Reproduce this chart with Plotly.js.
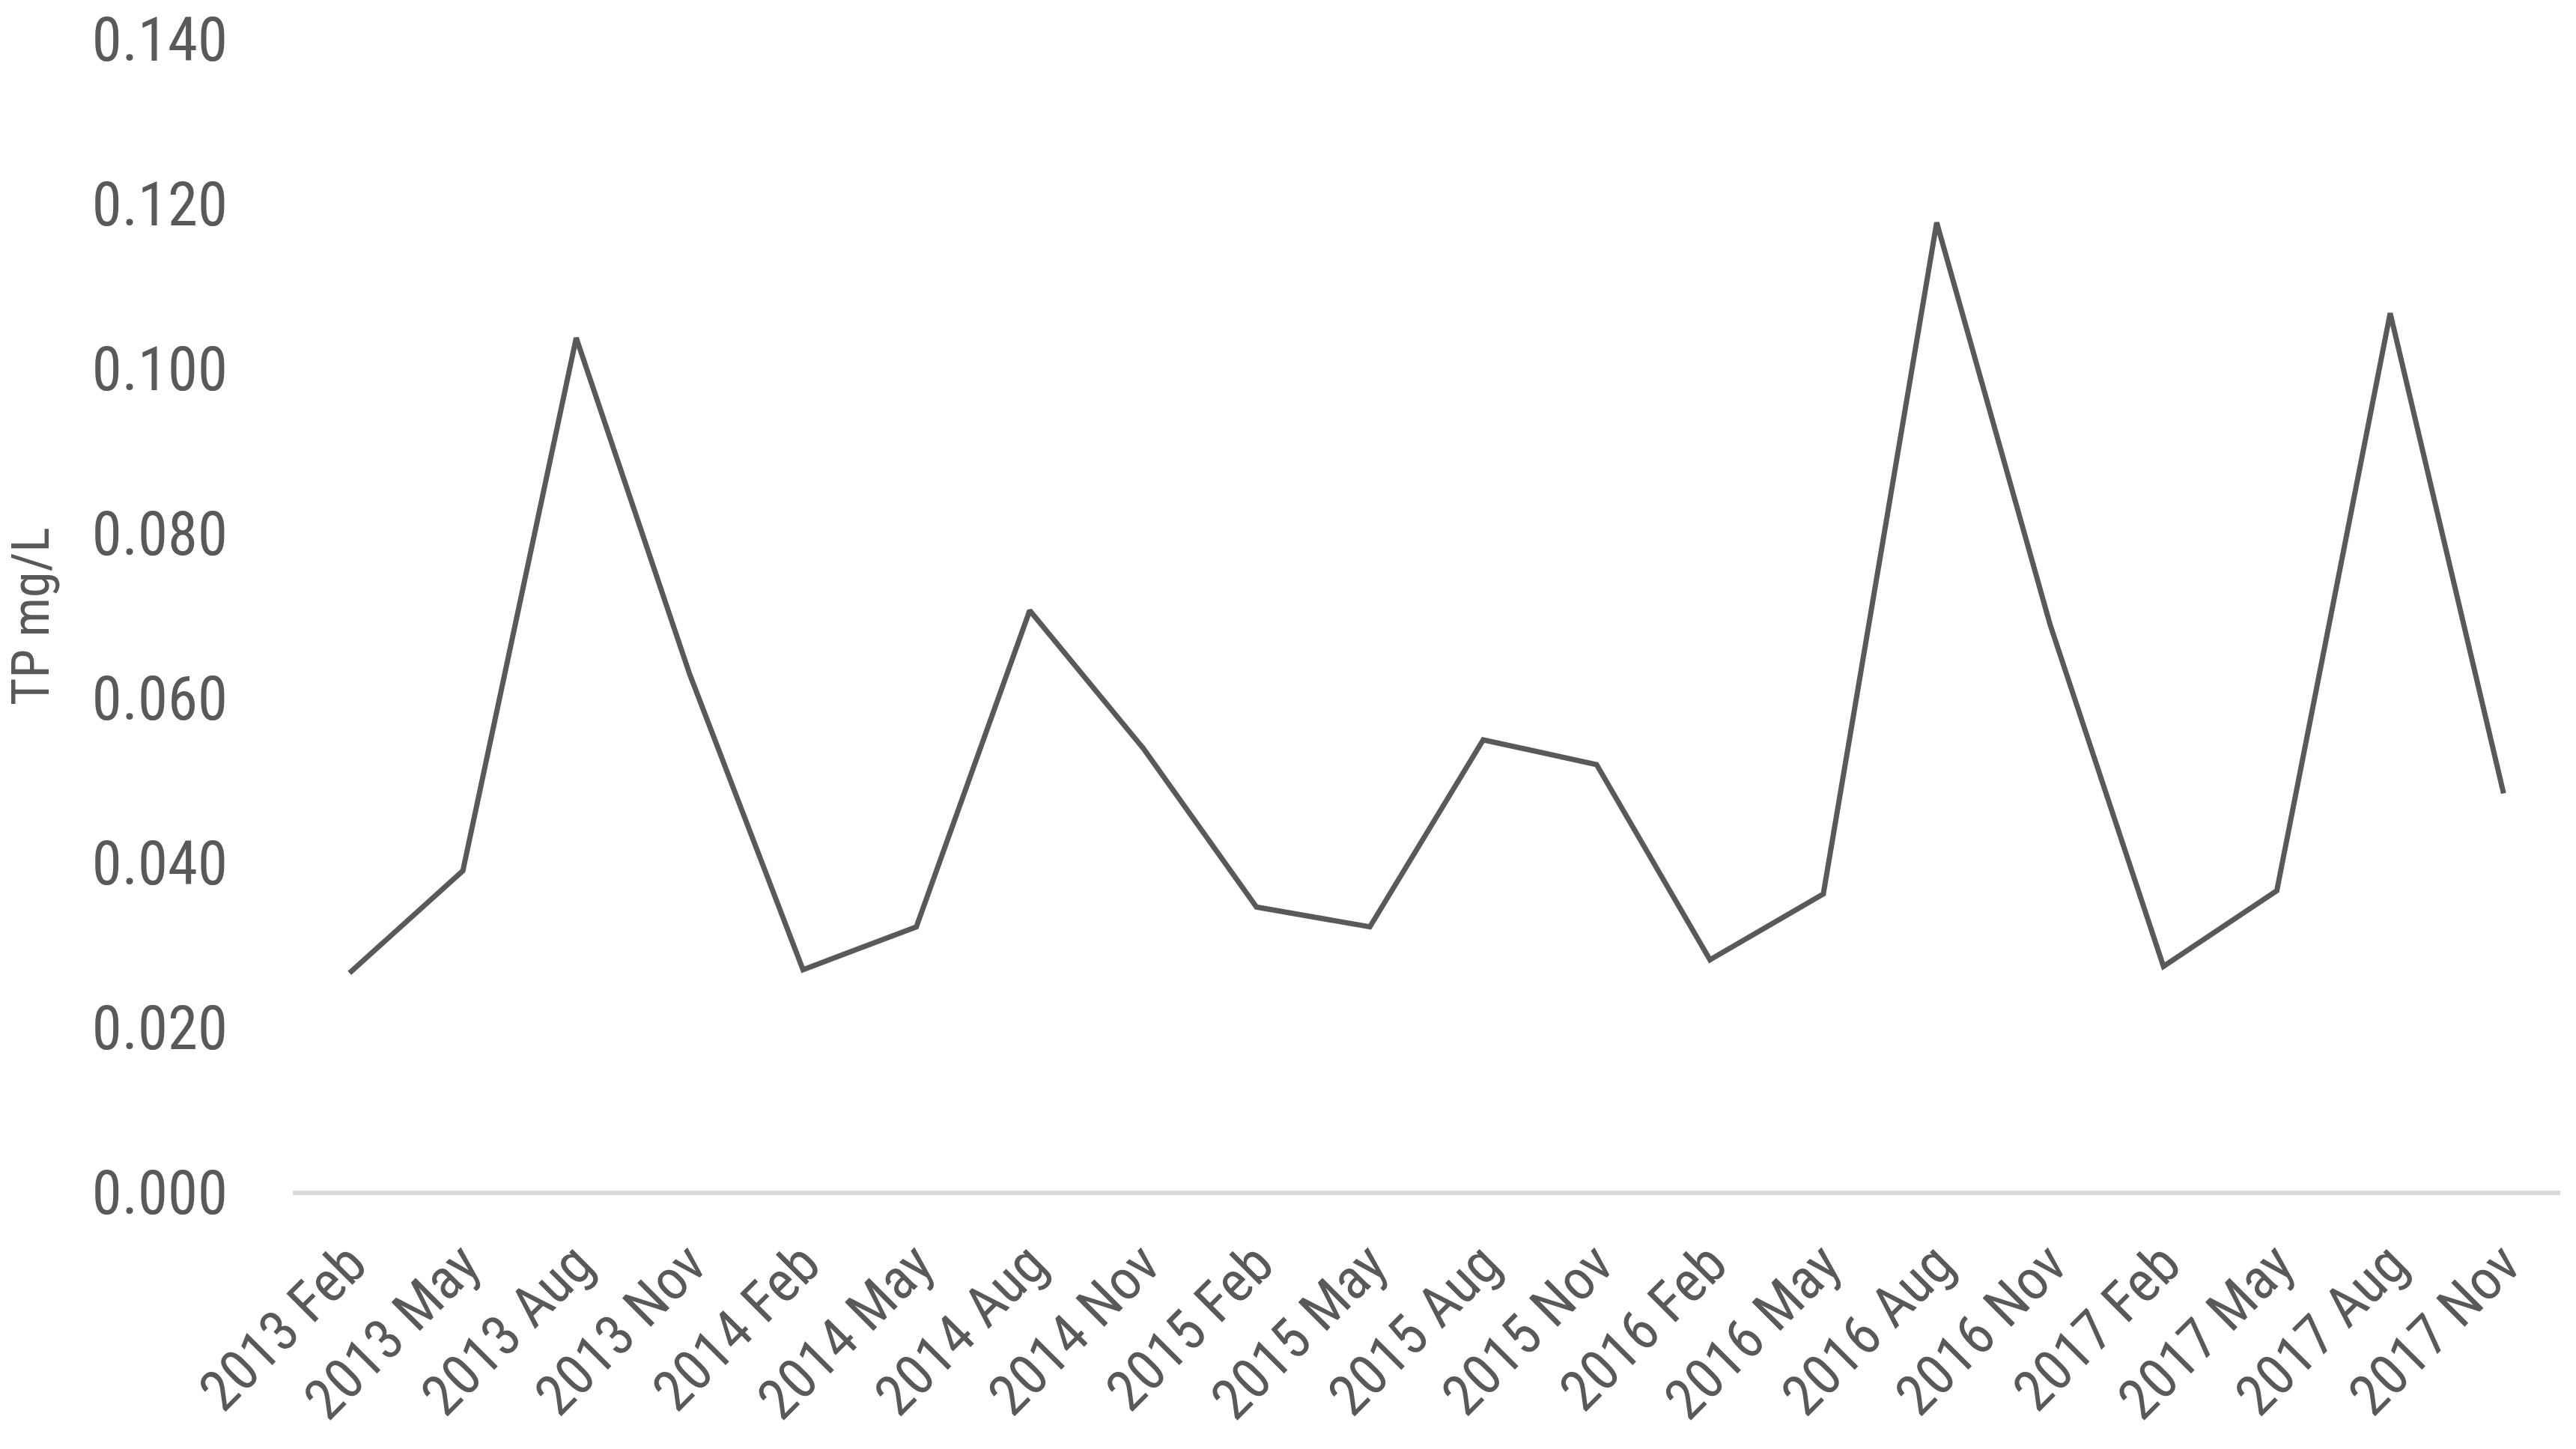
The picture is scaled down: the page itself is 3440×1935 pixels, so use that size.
<!DOCTYPE html>
<html>
<head>
<meta charset="utf-8">
<script src="https://cdn.plot.ly/plotly-3.0.1.min.js"></script>
<style>
  html, body { margin: 0; padding: 0; background: #ffffff; }
  #chart { width: 3440px; height: 1935px; }
</style>
</head>
<body>
<div id="chart"></div>
<script>
const categories = [
  "2013 Feb", "2013 May", "2013 Aug", "2013 Nov",
  "2014 Feb", "2014 May", "2014 Aug", "2014 Nov",
  "2015 Feb", "2015 May", "2015 Aug", "2015 Nov",
  "2016 Feb", "2016 May", "2016 Aug", "2016 Nov",
  "2017 Feb", "2017 May", "2017 Aug", "2017 Nov"
];
const tpValues = [
  0.0267, 0.0391, 0.1038, 0.0630,
  0.0271, 0.0323, 0.0707, 0.0540,
  0.0347, 0.0323, 0.0550, 0.0520,
  0.0283, 0.0363, 0.1178, 0.0690,
  0.0275, 0.0367, 0.1068, 0.0485
];
const yTickValues = [0, 0.02, 0.04, 0.06, 0.08, 0.10, 0.12, 0.14];
const yTitle = "TP mg/L";

const FONT = "'Liberation Sans Narrow', 'Arial Narrow', 'Roboto Condensed', 'Open Sans', sans-serif";
const TXT = "#595959";

const trace = {
  type: "scatter",
  mode: "lines",
  x: categories,
  y: tpValues,
  line: { color: "#595959", width: 7 },
  hoverinfo: "skip",
  showlegend: false
};

const layout = {
  width: 3440,
  height: 1935,
  paper_bgcolor: "#ffffff",
  plot_bgcolor: "#ffffff",
  margin: { l: 391, r: 21, t: 53, b: 342, pad: 0 },
  showlegend: false,
  font: { family: FONT, color: TXT, size: 76 },
  xaxis: {
    type: "category",
    range: [-0.5, categories.length - 0.5],
    showgrid: false,
    zeroline: false,
    showline: false,
    ticks: "",
    tickangle: -45,
    ticklabelstandoff: 34,
    tickfont: { family: FONT, color: TXT, size: 76 },
    automargin: false,
    fixedrange: true
  },
  yaxis: {
    range: [0, 0.14],
    tickvals: yTickValues,
    tickformat: ".3f",
    showgrid: false,
    zeroline: true,
    zerolinecolor: "#d9d9d9",
    zerolinewidth: 6,
    showline: false,
    ticks: "",
    ticklabelstandoff: 86,
    tickfont: { family: FONT, color: TXT, size: 81 },
    title: { text: yTitle, font: { family: FONT, color: TXT, size: 70 }, standoff: 34 },
    automargin: false,
    fixedrange: true
  }
};

Plotly.newPlot("chart", [trace], layout, { staticPlot: true, displayModeBar: false });
</script>
</body>
</html>
